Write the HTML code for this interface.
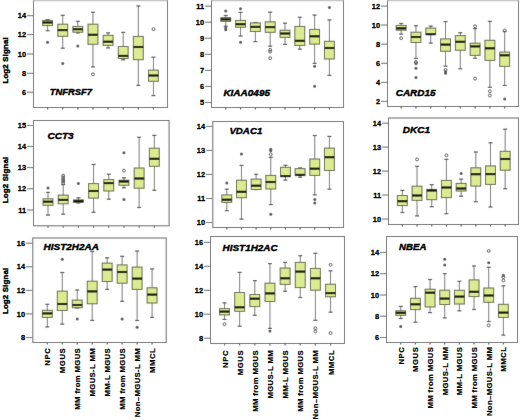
<!DOCTYPE html>
<html><head><meta charset="utf-8">
<style>
html,body{margin:0;padding:0;background:#fff;}
body{width:520px;height:420px;overflow:hidden;}
svg{display:block;}
#w{width:520px;height:420px;}
text{font-family:"Liberation Sans",sans-serif;fill:#000;}
.tk{font-size:7.4px;font-weight:bold;text-anchor:end;stroke:#000;stroke-width:0.3px;}
.gl{font-size:9.9px;font-weight:bold;font-style:italic;stroke:#000;stroke-width:0.42px;}
.xl{font-size:7.7px;font-weight:bold;stroke:#000;stroke-width:0.2px;}
.yt{font-size:7.8px;font-weight:bold;stroke:#000;stroke-width:0.4px;}
</style></head><body>
<div id="w"><svg width="520" height="420" viewBox="0 0 520 420">
<defs><filter id="bl" x="0" y="0" width="520" height="420" filterUnits="userSpaceOnUse"><feConvolveMatrix order="3" kernelMatrix="0.00524 0.06192 0.00524 0.06192 0.73137 0.06192 0.00524 0.06192 0.00524" divisor="1" edgeMode="duplicate" preserveAlpha="true"/></filter></defs>
<g filter="url(#bl)">
<rect x="0" y="0" width="520" height="420" fill="#fff"/>
<rect x="33.5" y="-2" width="134" height="109.5" fill="#fff" stroke="#636363" stroke-width="1"/>
<line x1="33.5" y1="0.6" x2="167.5" y2="0.6" stroke="#c4c4c4" stroke-width="1.2"/>
<line x1="27" y1="15.7" x2="33" y2="15.7" stroke="#666" stroke-width="1"/>
<line x1="27" y1="34.6" x2="33" y2="34.6" stroke="#666" stroke-width="1"/>
<line x1="27" y1="54" x2="33" y2="54" stroke="#666" stroke-width="1"/>
<line x1="27" y1="73.3" x2="33" y2="73.3" stroke="#666" stroke-width="1"/>
<line x1="27" y1="92.2" x2="33" y2="92.2" stroke="#666" stroke-width="1"/>
<line x1="47.6" y1="108" x2="47.6" y2="109.4" stroke="#444" stroke-width="1.1"/>
<line x1="62.72" y1="108" x2="62.72" y2="109.4" stroke="#444" stroke-width="1.1"/>
<line x1="77.84" y1="108" x2="77.84" y2="109.4" stroke="#444" stroke-width="1.1"/>
<line x1="92.96" y1="108" x2="92.96" y2="109.4" stroke="#444" stroke-width="1.1"/>
<line x1="108.08" y1="108" x2="108.08" y2="109.4" stroke="#444" stroke-width="1.1"/>
<line x1="123.2" y1="108" x2="123.2" y2="109.4" stroke="#444" stroke-width="1.1"/>
<line x1="138.32" y1="108" x2="138.32" y2="109.4" stroke="#444" stroke-width="1.1"/>
<line x1="153.44" y1="108" x2="153.44" y2="109.4" stroke="#444" stroke-width="1.1"/>
<line x1="47.6" y1="19.6" x2="47.6" y2="20.4" stroke="#767676" stroke-width="1"/>
<line x1="47.6" y1="25.6" x2="47.6" y2="30.7" stroke="#767676" stroke-width="1"/>
<line x1="45.6" y1="19.6" x2="49.6" y2="19.6" stroke="#505050" stroke-width="1.2"/>
<line x1="45.6" y1="30.7" x2="49.6" y2="30.7" stroke="#505050" stroke-width="1.2"/>
<rect x="42.65" y="20.4" width="9.9" height="5.2" fill="#dbeb8f" stroke="#62654a" stroke-width="1"/>
<line x1="42.65" y1="22.5" x2="52.55" y2="22.5" stroke="#000" stroke-width="2.1"/>
<circle cx="47.6" cy="42.2" r="1.5" fill="#555555"/>
<line x1="62.72" y1="15.3" x2="62.72" y2="24.2" stroke="#767676" stroke-width="1"/>
<line x1="62.72" y1="36.3" x2="62.72" y2="48.2" stroke="#767676" stroke-width="1"/>
<line x1="60.72" y1="15.3" x2="64.72" y2="15.3" stroke="#505050" stroke-width="1.2"/>
<line x1="60.72" y1="48.2" x2="64.72" y2="48.2" stroke="#505050" stroke-width="1.2"/>
<rect x="57.77" y="24.2" width="9.9" height="12.1" fill="#dbeb8f" stroke="#62654a" stroke-width="1"/>
<line x1="57.77" y1="30.1" x2="67.67" y2="30.1" stroke="#000" stroke-width="2.1"/>
<circle cx="62.72" cy="63.5" r="1.5" fill="#555555"/>
<line x1="77.84" y1="21.4" x2="77.84" y2="26.4" stroke="#767676" stroke-width="1"/>
<line x1="77.84" y1="32.2" x2="77.84" y2="32.9" stroke="#767676" stroke-width="1"/>
<line x1="75.84" y1="21.4" x2="79.84" y2="21.4" stroke="#505050" stroke-width="1.2"/>
<line x1="75.84" y1="32.9" x2="79.84" y2="32.9" stroke="#505050" stroke-width="1.2"/>
<rect x="72.89" y="26.4" width="9.9" height="5.8" fill="#dbeb8f" stroke="#62654a" stroke-width="1"/>
<line x1="72.89" y1="29.2" x2="82.79" y2="29.2" stroke="#000" stroke-width="2.1"/>
<circle cx="77.84" cy="46" r="1.5" fill="#555555"/>
<line x1="92.96" y1="12.3" x2="92.96" y2="24.2" stroke="#767676" stroke-width="1"/>
<line x1="92.96" y1="44.3" x2="92.96" y2="66.9" stroke="#767676" stroke-width="1"/>
<line x1="90.96" y1="12.3" x2="94.96" y2="12.3" stroke="#505050" stroke-width="1.2"/>
<line x1="90.96" y1="66.9" x2="94.96" y2="66.9" stroke="#505050" stroke-width="1.2"/>
<rect x="88.01" y="24.2" width="9.9" height="20.1" fill="#dbeb8f" stroke="#62654a" stroke-width="1"/>
<line x1="88.01" y1="34.8" x2="97.91" y2="34.8" stroke="#000" stroke-width="2.1"/>
<circle cx="92.96" cy="74.3" r="1.45" fill="none" stroke="#555555" stroke-width="1"/>
<line x1="108.08" y1="32.8" x2="108.08" y2="35.3" stroke="#767676" stroke-width="1"/>
<line x1="108.08" y1="45.4" x2="108.08" y2="47.9" stroke="#767676" stroke-width="1"/>
<line x1="106.08" y1="32.8" x2="110.08" y2="32.8" stroke="#505050" stroke-width="1.2"/>
<line x1="106.08" y1="47.9" x2="110.08" y2="47.9" stroke="#505050" stroke-width="1.2"/>
<rect x="103.13" y="35.3" width="9.9" height="10.1" fill="#dbeb8f" stroke="#62654a" stroke-width="1"/>
<line x1="103.13" y1="41.7" x2="113.03" y2="41.7" stroke="#000" stroke-width="2.1"/>
<line x1="123.2" y1="32.4" x2="123.2" y2="46.5" stroke="#767676" stroke-width="1"/>
<line x1="123.2" y1="58.5" x2="123.2" y2="59.8" stroke="#767676" stroke-width="1"/>
<line x1="121.2" y1="32.4" x2="125.2" y2="32.4" stroke="#505050" stroke-width="1.2"/>
<line x1="121.2" y1="59.8" x2="125.2" y2="59.8" stroke="#505050" stroke-width="1.2"/>
<rect x="118.25" y="46.5" width="9.9" height="12" fill="#dbeb8f" stroke="#62654a" stroke-width="1"/>
<line x1="118.25" y1="55.9" x2="128.15" y2="55.9" stroke="#000" stroke-width="2.1"/>
<line x1="138.32" y1="6" x2="138.32" y2="36.4" stroke="#767676" stroke-width="1"/>
<line x1="138.32" y1="59.7" x2="138.32" y2="85.4" stroke="#767676" stroke-width="1"/>
<line x1="136.32" y1="6" x2="140.32" y2="6" stroke="#505050" stroke-width="1.2"/>
<line x1="136.32" y1="85.4" x2="140.32" y2="85.4" stroke="#505050" stroke-width="1.2"/>
<rect x="133.37" y="36.4" width="9.9" height="23.3" fill="#dbeb8f" stroke="#62654a" stroke-width="1"/>
<line x1="133.37" y1="47" x2="143.27" y2="47" stroke="#000" stroke-width="2.1"/>
<line x1="153.44" y1="57.2" x2="153.44" y2="70.1" stroke="#767676" stroke-width="1"/>
<line x1="153.44" y1="81.3" x2="153.44" y2="95.6" stroke="#767676" stroke-width="1"/>
<line x1="151.44" y1="57.2" x2="155.44" y2="57.2" stroke="#505050" stroke-width="1.2"/>
<line x1="151.44" y1="95.6" x2="155.44" y2="95.6" stroke="#505050" stroke-width="1.2"/>
<rect x="148.49" y="70.1" width="9.9" height="11.2" fill="#dbeb8f" stroke="#62654a" stroke-width="1"/>
<line x1="148.49" y1="75.5" x2="158.39" y2="75.5" stroke="#000" stroke-width="2.1"/>
<circle cx="153.44" cy="29.2" r="1.45" fill="none" stroke="#555555" stroke-width="1"/>
<rect x="211.5" y="-2" width="132" height="109.5" fill="#fff" stroke="#636363" stroke-width="1"/>
<line x1="211.5" y1="0.6" x2="343.5" y2="0.6" stroke="#c4c4c4" stroke-width="1.2"/>
<line x1="205" y1="6.2" x2="211" y2="6.2" stroke="#666" stroke-width="1"/>
<line x1="205" y1="22.2" x2="211" y2="22.2" stroke="#666" stroke-width="1"/>
<line x1="205" y1="38.2" x2="211" y2="38.2" stroke="#666" stroke-width="1"/>
<line x1="205" y1="54.3" x2="211" y2="54.3" stroke="#666" stroke-width="1"/>
<line x1="205" y1="70.3" x2="211" y2="70.3" stroke="#666" stroke-width="1"/>
<line x1="205" y1="86.4" x2="211" y2="86.4" stroke="#666" stroke-width="1"/>
<line x1="205" y1="102.5" x2="211" y2="102.5" stroke="#666" stroke-width="1"/>
<line x1="225.75" y1="108" x2="225.75" y2="109.4" stroke="#444" stroke-width="1.1"/>
<line x1="240.56" y1="108" x2="240.56" y2="109.4" stroke="#444" stroke-width="1.1"/>
<line x1="255.37" y1="108" x2="255.37" y2="109.4" stroke="#444" stroke-width="1.1"/>
<line x1="270.18" y1="108" x2="270.18" y2="109.4" stroke="#444" stroke-width="1.1"/>
<line x1="284.99" y1="108" x2="284.99" y2="109.4" stroke="#444" stroke-width="1.1"/>
<line x1="299.8" y1="108" x2="299.8" y2="109.4" stroke="#444" stroke-width="1.1"/>
<line x1="314.61" y1="108" x2="314.61" y2="109.4" stroke="#444" stroke-width="1.1"/>
<line x1="329.42" y1="108" x2="329.42" y2="109.4" stroke="#444" stroke-width="1.1"/>
<line x1="225.75" y1="15.5" x2="225.75" y2="17.6" stroke="#767676" stroke-width="1"/>
<line x1="225.75" y1="21.4" x2="225.75" y2="26.2" stroke="#767676" stroke-width="1"/>
<line x1="223.75" y1="15.5" x2="227.75" y2="15.5" stroke="#505050" stroke-width="1.2"/>
<line x1="223.75" y1="26.2" x2="227.75" y2="26.2" stroke="#505050" stroke-width="1.2"/>
<rect x="220.8" y="17.6" width="9.9" height="3.8" fill="#dbeb8f" stroke="#62654a" stroke-width="1"/>
<line x1="220.8" y1="19.4" x2="230.7" y2="19.4" stroke="#000" stroke-width="2.1"/>
<circle cx="225.75" cy="10.9" r="1.5" fill="#555555"/>
<circle cx="225.75" cy="28.1" r="1.5" fill="#555555"/>
<circle cx="225.75" cy="29.8" r="1.5" fill="#555555"/>
<line x1="240.56" y1="12.4" x2="240.56" y2="20.4" stroke="#767676" stroke-width="1"/>
<line x1="240.56" y1="27.3" x2="240.56" y2="36" stroke="#767676" stroke-width="1"/>
<line x1="238.56" y1="12.4" x2="242.56" y2="12.4" stroke="#505050" stroke-width="1.2"/>
<line x1="238.56" y1="36" x2="242.56" y2="36" stroke="#505050" stroke-width="1.2"/>
<rect x="235.61" y="20.4" width="9.9" height="6.9" fill="#dbeb8f" stroke="#62654a" stroke-width="1"/>
<line x1="235.61" y1="24.2" x2="245.51" y2="24.2" stroke="#000" stroke-width="2.1"/>
<circle cx="240.56" cy="8.7" r="1.5" fill="#555555"/>
<circle cx="240.56" cy="42.2" r="1.5" fill="#555555"/>
<line x1="255.37" y1="22.5" x2="255.37" y2="22.9" stroke="#767676" stroke-width="1"/>
<line x1="255.37" y1="31.5" x2="255.37" y2="41.6" stroke="#767676" stroke-width="1"/>
<line x1="253.37" y1="22.5" x2="257.37" y2="22.5" stroke="#505050" stroke-width="1.2"/>
<line x1="253.37" y1="41.6" x2="257.37" y2="41.6" stroke="#505050" stroke-width="1.2"/>
<rect x="250.42" y="22.9" width="9.9" height="8.6" fill="#dbeb8f" stroke="#62654a" stroke-width="1"/>
<line x1="250.42" y1="26.9" x2="260.32" y2="26.9" stroke="#000" stroke-width="2.1"/>
<line x1="270.18" y1="12.2" x2="270.18" y2="21.8" stroke="#767676" stroke-width="1"/>
<line x1="270.18" y1="32.3" x2="270.18" y2="46.2" stroke="#767676" stroke-width="1"/>
<line x1="268.18" y1="12.2" x2="272.18" y2="12.2" stroke="#505050" stroke-width="1.2"/>
<line x1="268.18" y1="46.2" x2="272.18" y2="46.2" stroke="#505050" stroke-width="1.2"/>
<rect x="265.23" y="21.8" width="9.9" height="10.5" fill="#dbeb8f" stroke="#62654a" stroke-width="1"/>
<line x1="265.23" y1="27.1" x2="275.13" y2="27.1" stroke="#000" stroke-width="2.1"/>
<circle cx="270.18" cy="49.8" r="1.45" fill="none" stroke="#555555" stroke-width="1"/>
<circle cx="270.18" cy="51.6" r="1.45" fill="none" stroke="#555555" stroke-width="1"/>
<circle cx="270.18" cy="58.2" r="1.45" fill="none" stroke="#555555" stroke-width="1"/>
<line x1="284.99" y1="23.2" x2="284.99" y2="30.2" stroke="#767676" stroke-width="1"/>
<line x1="284.99" y1="37.4" x2="284.99" y2="44.4" stroke="#767676" stroke-width="1"/>
<line x1="282.99" y1="23.2" x2="286.99" y2="23.2" stroke="#505050" stroke-width="1.2"/>
<line x1="282.99" y1="44.4" x2="286.99" y2="44.4" stroke="#505050" stroke-width="1.2"/>
<rect x="280.04" y="30.2" width="9.9" height="7.2" fill="#dbeb8f" stroke="#62654a" stroke-width="1"/>
<line x1="280.04" y1="33.5" x2="289.94" y2="33.5" stroke="#000" stroke-width="2.1"/>
<line x1="299.8" y1="17.3" x2="299.8" y2="26.4" stroke="#767676" stroke-width="1"/>
<line x1="299.8" y1="45.5" x2="299.8" y2="49.2" stroke="#767676" stroke-width="1"/>
<line x1="297.8" y1="17.3" x2="301.8" y2="17.3" stroke="#505050" stroke-width="1.2"/>
<line x1="297.8" y1="49.2" x2="301.8" y2="49.2" stroke="#505050" stroke-width="1.2"/>
<rect x="294.85" y="26.4" width="9.9" height="19.1" fill="#dbeb8f" stroke="#62654a" stroke-width="1"/>
<line x1="294.85" y1="40.8" x2="304.75" y2="40.8" stroke="#000" stroke-width="2.1"/>
<line x1="314.61" y1="15.1" x2="314.61" y2="29.4" stroke="#767676" stroke-width="1"/>
<line x1="314.61" y1="44.1" x2="314.61" y2="63.4" stroke="#767676" stroke-width="1"/>
<line x1="312.61" y1="15.1" x2="316.61" y2="15.1" stroke="#505050" stroke-width="1.2"/>
<line x1="312.61" y1="63.4" x2="316.61" y2="63.4" stroke="#505050" stroke-width="1.2"/>
<rect x="309.66" y="29.4" width="9.9" height="14.7" fill="#dbeb8f" stroke="#62654a" stroke-width="1"/>
<line x1="309.66" y1="36.3" x2="319.56" y2="36.3" stroke="#000" stroke-width="2.1"/>
<circle cx="314.61" cy="66.3" r="1.5" fill="#555555"/>
<circle cx="314.61" cy="86.3" r="1.5" fill="#555555"/>
<line x1="329.42" y1="19.9" x2="329.42" y2="41.3" stroke="#767676" stroke-width="1"/>
<line x1="329.42" y1="59" x2="329.42" y2="75.4" stroke="#767676" stroke-width="1"/>
<line x1="327.42" y1="19.9" x2="331.42" y2="19.9" stroke="#505050" stroke-width="1.2"/>
<line x1="327.42" y1="75.4" x2="331.42" y2="75.4" stroke="#505050" stroke-width="1.2"/>
<rect x="324.47" y="41.3" width="9.9" height="17.7" fill="#dbeb8f" stroke="#62654a" stroke-width="1"/>
<line x1="324.47" y1="48" x2="334.37" y2="48" stroke="#000" stroke-width="2.1"/>
<circle cx="329.42" cy="7.5" r="1.5" fill="#555555"/>
<rect x="387.5" y="-2" width="131" height="108.5" fill="#fff" stroke="#636363" stroke-width="1"/>
<line x1="387.5" y1="0.6" x2="518.5" y2="0.6" stroke="#c4c4c4" stroke-width="1.2"/>
<line x1="381" y1="6.1" x2="387" y2="6.1" stroke="#666" stroke-width="1"/>
<line x1="381" y1="25" x2="387" y2="25" stroke="#666" stroke-width="1"/>
<line x1="381" y1="44.2" x2="387" y2="44.2" stroke="#666" stroke-width="1"/>
<line x1="381" y1="63.3" x2="387" y2="63.3" stroke="#666" stroke-width="1"/>
<line x1="381" y1="82.4" x2="387" y2="82.4" stroke="#666" stroke-width="1"/>
<line x1="381" y1="101.4" x2="387" y2="101.4" stroke="#666" stroke-width="1"/>
<line x1="401.15" y1="107" x2="401.15" y2="108.4" stroke="#444" stroke-width="1.1"/>
<line x1="415.94" y1="107" x2="415.94" y2="108.4" stroke="#444" stroke-width="1.1"/>
<line x1="430.73" y1="107" x2="430.73" y2="108.4" stroke="#444" stroke-width="1.1"/>
<line x1="445.52" y1="107" x2="445.52" y2="108.4" stroke="#444" stroke-width="1.1"/>
<line x1="460.31" y1="107" x2="460.31" y2="108.4" stroke="#444" stroke-width="1.1"/>
<line x1="475.1" y1="107" x2="475.1" y2="108.4" stroke="#444" stroke-width="1.1"/>
<line x1="489.89" y1="107" x2="489.89" y2="108.4" stroke="#444" stroke-width="1.1"/>
<line x1="504.68" y1="107" x2="504.68" y2="108.4" stroke="#444" stroke-width="1.1"/>
<line x1="401.15" y1="23.5" x2="401.15" y2="25.4" stroke="#767676" stroke-width="1"/>
<line x1="401.15" y1="30.2" x2="401.15" y2="34.1" stroke="#767676" stroke-width="1"/>
<line x1="399.15" y1="23.5" x2="403.15" y2="23.5" stroke="#505050" stroke-width="1.2"/>
<line x1="399.15" y1="34.1" x2="403.15" y2="34.1" stroke="#505050" stroke-width="1.2"/>
<rect x="396.2" y="25.4" width="9.9" height="4.8" fill="#dbeb8f" stroke="#62654a" stroke-width="1"/>
<line x1="396.2" y1="28.3" x2="406.1" y2="28.3" stroke="#000" stroke-width="2.1"/>
<circle cx="401.15" cy="38.2" r="1.45" fill="none" stroke="#555555" stroke-width="1"/>
<line x1="415.94" y1="25.8" x2="415.94" y2="32.2" stroke="#767676" stroke-width="1"/>
<line x1="415.94" y1="42.5" x2="415.94" y2="58.5" stroke="#767676" stroke-width="1"/>
<line x1="413.94" y1="25.8" x2="417.94" y2="25.8" stroke="#505050" stroke-width="1.2"/>
<line x1="413.94" y1="58.5" x2="417.94" y2="58.5" stroke="#505050" stroke-width="1.2"/>
<rect x="410.99" y="32.2" width="9.9" height="10.3" fill="#dbeb8f" stroke="#62654a" stroke-width="1"/>
<line x1="410.99" y1="37" x2="420.89" y2="37" stroke="#000" stroke-width="2.1"/>
<circle cx="415.94" cy="62.1" r="1.45" fill="none" stroke="#555555" stroke-width="1"/>
<circle cx="415.94" cy="63.3" r="1.45" fill="none" stroke="#555555" stroke-width="1"/>
<circle cx="415.94" cy="68.2" r="1.5" fill="#555555"/>
<circle cx="415.94" cy="77.5" r="1.5" fill="#555555"/>
<line x1="430.73" y1="26.1" x2="430.73" y2="28.1" stroke="#767676" stroke-width="1"/>
<line x1="430.73" y1="34.4" x2="430.73" y2="43.1" stroke="#767676" stroke-width="1"/>
<line x1="428.73" y1="26.1" x2="432.73" y2="26.1" stroke="#505050" stroke-width="1.2"/>
<line x1="428.73" y1="43.1" x2="432.73" y2="43.1" stroke="#505050" stroke-width="1.2"/>
<rect x="425.78" y="28.1" width="9.9" height="6.3" fill="#dbeb8f" stroke="#62654a" stroke-width="1"/>
<line x1="425.78" y1="34.2" x2="435.68" y2="34.2" stroke="#000" stroke-width="2.1"/>
<line x1="445.52" y1="21.6" x2="445.52" y2="38.9" stroke="#767676" stroke-width="1"/>
<line x1="445.52" y1="51.3" x2="445.52" y2="66.2" stroke="#767676" stroke-width="1"/>
<line x1="443.52" y1="21.6" x2="447.52" y2="21.6" stroke="#505050" stroke-width="1.2"/>
<line x1="443.52" y1="66.2" x2="447.52" y2="66.2" stroke="#505050" stroke-width="1.2"/>
<rect x="440.57" y="38.9" width="9.9" height="12.4" fill="#dbeb8f" stroke="#62654a" stroke-width="1"/>
<line x1="440.57" y1="44.6" x2="450.47" y2="44.6" stroke="#000" stroke-width="2.1"/>
<circle cx="445.52" cy="70" r="1.45" fill="none" stroke="#555555" stroke-width="1"/>
<circle cx="445.52" cy="71.8" r="1.5" fill="#555555"/>
<circle cx="445.52" cy="73.2" r="1.5" fill="#555555"/>
<line x1="460.31" y1="32.7" x2="460.31" y2="35.6" stroke="#767676" stroke-width="1"/>
<line x1="460.31" y1="50.3" x2="460.31" y2="68.8" stroke="#767676" stroke-width="1"/>
<line x1="458.31" y1="32.7" x2="462.31" y2="32.7" stroke="#505050" stroke-width="1.2"/>
<line x1="458.31" y1="68.8" x2="462.31" y2="68.8" stroke="#505050" stroke-width="1.2"/>
<rect x="455.36" y="35.6" width="9.9" height="14.7" fill="#dbeb8f" stroke="#62654a" stroke-width="1"/>
<line x1="455.36" y1="41.8" x2="465.26" y2="41.8" stroke="#000" stroke-width="2.1"/>
<line x1="475.1" y1="28.6" x2="475.1" y2="43.2" stroke="#767676" stroke-width="1"/>
<line x1="475.1" y1="55.4" x2="475.1" y2="58.3" stroke="#767676" stroke-width="1"/>
<line x1="473.1" y1="28.6" x2="477.1" y2="28.6" stroke="#505050" stroke-width="1.2"/>
<line x1="473.1" y1="58.3" x2="477.1" y2="58.3" stroke="#505050" stroke-width="1.2"/>
<rect x="470.15" y="43.2" width="9.9" height="12.2" fill="#dbeb8f" stroke="#62654a" stroke-width="1"/>
<line x1="470.15" y1="46.4" x2="480.05" y2="46.4" stroke="#000" stroke-width="2.1"/>
<circle cx="475.1" cy="26.3" r="1.45" fill="none" stroke="#555555" stroke-width="1"/>
<circle cx="475.1" cy="78.6" r="1.45" fill="none" stroke="#555555" stroke-width="1"/>
<line x1="489.89" y1="21.4" x2="489.89" y2="40.3" stroke="#767676" stroke-width="1"/>
<line x1="489.89" y1="60.4" x2="489.89" y2="87.3" stroke="#767676" stroke-width="1"/>
<line x1="487.89" y1="21.4" x2="491.89" y2="21.4" stroke="#505050" stroke-width="1.2"/>
<line x1="487.89" y1="87.3" x2="491.89" y2="87.3" stroke="#505050" stroke-width="1.2"/>
<rect x="484.94" y="40.3" width="9.9" height="20.1" fill="#dbeb8f" stroke="#62654a" stroke-width="1"/>
<line x1="484.94" y1="48.3" x2="494.84" y2="48.3" stroke="#000" stroke-width="2.1"/>
<circle cx="489.89" cy="91.3" r="1.45" fill="none" stroke="#555555" stroke-width="1"/>
<circle cx="489.89" cy="95.5" r="1.45" fill="none" stroke="#555555" stroke-width="1"/>
<line x1="504.68" y1="31.5" x2="504.68" y2="52.1" stroke="#767676" stroke-width="1"/>
<line x1="504.68" y1="66.4" x2="504.68" y2="85.5" stroke="#767676" stroke-width="1"/>
<line x1="502.68" y1="31.5" x2="506.68" y2="31.5" stroke="#505050" stroke-width="1.2"/>
<line x1="502.68" y1="85.5" x2="506.68" y2="85.5" stroke="#505050" stroke-width="1.2"/>
<rect x="499.73" y="52.1" width="9.9" height="14.3" fill="#dbeb8f" stroke="#62654a" stroke-width="1"/>
<line x1="499.73" y1="55.3" x2="509.63" y2="55.3" stroke="#000" stroke-width="2.1"/>
<circle cx="504.68" cy="30.5" r="1.45" fill="none" stroke="#555555" stroke-width="1"/>
<circle cx="504.68" cy="98.9" r="1.5" fill="#555555"/>
<rect x="33.5" y="120.5" width="135.6" height="105.3" fill="#fff" stroke="#636363" stroke-width="1"/>
<line x1="27" y1="125.5" x2="33" y2="125.5" stroke="#666" stroke-width="1"/>
<line x1="27" y1="146.4" x2="33" y2="146.4" stroke="#666" stroke-width="1"/>
<line x1="27" y1="167.6" x2="33" y2="167.6" stroke="#666" stroke-width="1"/>
<line x1="27" y1="188.8" x2="33" y2="188.8" stroke="#666" stroke-width="1"/>
<line x1="27" y1="210" x2="33" y2="210" stroke="#666" stroke-width="1"/>
<line x1="48" y1="226.3" x2="48" y2="227.7" stroke="#444" stroke-width="1.1"/>
<line x1="63.19" y1="226.3" x2="63.19" y2="227.7" stroke="#444" stroke-width="1.1"/>
<line x1="78.38" y1="226.3" x2="78.38" y2="227.7" stroke="#444" stroke-width="1.1"/>
<line x1="93.57" y1="226.3" x2="93.57" y2="227.7" stroke="#444" stroke-width="1.1"/>
<line x1="108.76" y1="226.3" x2="108.76" y2="227.7" stroke="#444" stroke-width="1.1"/>
<line x1="123.95" y1="226.3" x2="123.95" y2="227.7" stroke="#444" stroke-width="1.1"/>
<line x1="139.14" y1="226.3" x2="139.14" y2="227.7" stroke="#444" stroke-width="1.1"/>
<line x1="154.33" y1="226.3" x2="154.33" y2="227.7" stroke="#444" stroke-width="1.1"/>
<line x1="48" y1="192.4" x2="48" y2="198.8" stroke="#767676" stroke-width="1"/>
<line x1="48" y1="205.3" x2="48" y2="215.1" stroke="#767676" stroke-width="1"/>
<line x1="46" y1="192.4" x2="50" y2="192.4" stroke="#505050" stroke-width="1.2"/>
<line x1="46" y1="215.1" x2="50" y2="215.1" stroke="#505050" stroke-width="1.2"/>
<rect x="43.05" y="198.8" width="9.9" height="6.5" fill="#dbeb8f" stroke="#62654a" stroke-width="1"/>
<line x1="43.05" y1="201.7" x2="52.95" y2="201.7" stroke="#000" stroke-width="2.1"/>
<circle cx="48" cy="188" r="1.5" fill="#555555"/>
<line x1="63.19" y1="184.6" x2="63.19" y2="195.1" stroke="#767676" stroke-width="1"/>
<line x1="63.19" y1="203.8" x2="63.19" y2="214.2" stroke="#767676" stroke-width="1"/>
<line x1="61.19" y1="184.6" x2="65.19" y2="184.6" stroke="#505050" stroke-width="1.2"/>
<line x1="61.19" y1="214.2" x2="65.19" y2="214.2" stroke="#505050" stroke-width="1.2"/>
<rect x="58.24" y="195.1" width="9.9" height="8.7" fill="#dbeb8f" stroke="#62654a" stroke-width="1"/>
<line x1="58.24" y1="199.9" x2="68.14" y2="199.9" stroke="#000" stroke-width="2.1"/>
<circle cx="63.19" cy="175.6" r="1.45" fill="none" stroke="#555555" stroke-width="1"/>
<circle cx="63.19" cy="177.4" r="1.45" fill="none" stroke="#555555" stroke-width="1"/>
<circle cx="63.19" cy="179.2" r="1.45" fill="none" stroke="#555555" stroke-width="1"/>
<circle cx="63.19" cy="181" r="1.45" fill="none" stroke="#555555" stroke-width="1"/>
<circle cx="63.19" cy="182.8" r="1.45" fill="none" stroke="#555555" stroke-width="1"/>
<line x1="78.38" y1="197.8" x2="78.38" y2="199.9" stroke="#767676" stroke-width="1"/>
<line x1="78.38" y1="202.3" x2="78.38" y2="203" stroke="#767676" stroke-width="1"/>
<line x1="76.38" y1="197.8" x2="80.38" y2="197.8" stroke="#505050" stroke-width="1.2"/>
<line x1="76.38" y1="203" x2="80.38" y2="203" stroke="#505050" stroke-width="1.2"/>
<rect x="73.43" y="199.9" width="9.9" height="2.4" fill="#dbeb8f" stroke="#62654a" stroke-width="1"/>
<line x1="73.43" y1="201.2" x2="83.33" y2="201.2" stroke="#000" stroke-width="2.1"/>
<circle cx="78.38" cy="183.5" r="1.5" fill="#555555"/>
<line x1="93.57" y1="164.5" x2="93.57" y2="183.6" stroke="#767676" stroke-width="1"/>
<line x1="93.57" y1="198.1" x2="93.57" y2="212.3" stroke="#767676" stroke-width="1"/>
<line x1="91.57" y1="164.5" x2="95.57" y2="164.5" stroke="#505050" stroke-width="1.2"/>
<line x1="91.57" y1="212.3" x2="95.57" y2="212.3" stroke="#505050" stroke-width="1.2"/>
<rect x="88.62" y="183.6" width="9.9" height="14.5" fill="#dbeb8f" stroke="#62654a" stroke-width="1"/>
<line x1="88.62" y1="191" x2="98.52" y2="191" stroke="#000" stroke-width="2.1"/>
<line x1="108.76" y1="174.2" x2="108.76" y2="179.6" stroke="#767676" stroke-width="1"/>
<line x1="108.76" y1="191" x2="108.76" y2="199.2" stroke="#767676" stroke-width="1"/>
<line x1="106.76" y1="174.2" x2="110.76" y2="174.2" stroke="#505050" stroke-width="1.2"/>
<line x1="106.76" y1="199.2" x2="110.76" y2="199.2" stroke="#505050" stroke-width="1.2"/>
<rect x="103.81" y="179.6" width="9.9" height="11.4" fill="#dbeb8f" stroke="#62654a" stroke-width="1"/>
<line x1="103.81" y1="183.1" x2="113.71" y2="183.1" stroke="#000" stroke-width="2.1"/>
<line x1="123.95" y1="177.8" x2="123.95" y2="180.2" stroke="#767676" stroke-width="1"/>
<line x1="123.95" y1="185.3" x2="123.95" y2="187.8" stroke="#767676" stroke-width="1"/>
<line x1="121.95" y1="177.8" x2="125.95" y2="177.8" stroke="#505050" stroke-width="1.2"/>
<line x1="121.95" y1="187.8" x2="125.95" y2="187.8" stroke="#505050" stroke-width="1.2"/>
<rect x="119" y="180.2" width="9.9" height="5.1" fill="#dbeb8f" stroke="#62654a" stroke-width="1"/>
<line x1="119" y1="181.5" x2="128.9" y2="181.5" stroke="#000" stroke-width="2.1"/>
<circle cx="123.95" cy="152.7" r="1.5" fill="#555555"/>
<circle cx="123.95" cy="170.6" r="1.45" fill="none" stroke="#555555" stroke-width="1"/>
<circle cx="123.95" cy="199.6" r="1.5" fill="#555555"/>
<line x1="139.14" y1="137.3" x2="139.14" y2="168" stroke="#767676" stroke-width="1"/>
<line x1="139.14" y1="188.2" x2="139.14" y2="207.5" stroke="#767676" stroke-width="1"/>
<line x1="137.14" y1="137.3" x2="141.14" y2="137.3" stroke="#505050" stroke-width="1.2"/>
<line x1="137.14" y1="207.5" x2="141.14" y2="207.5" stroke="#505050" stroke-width="1.2"/>
<rect x="134.19" y="168" width="9.9" height="20.2" fill="#dbeb8f" stroke="#62654a" stroke-width="1"/>
<line x1="134.19" y1="178.5" x2="144.09" y2="178.5" stroke="#000" stroke-width="2.1"/>
<line x1="154.33" y1="135.4" x2="154.33" y2="148.2" stroke="#767676" stroke-width="1"/>
<line x1="154.33" y1="166.3" x2="154.33" y2="190.3" stroke="#767676" stroke-width="1"/>
<line x1="152.33" y1="135.4" x2="156.33" y2="135.4" stroke="#505050" stroke-width="1.2"/>
<line x1="152.33" y1="190.3" x2="156.33" y2="190.3" stroke="#505050" stroke-width="1.2"/>
<rect x="149.38" y="148.2" width="9.9" height="18.1" fill="#dbeb8f" stroke="#62654a" stroke-width="1"/>
<line x1="149.38" y1="158.8" x2="159.28" y2="158.8" stroke="#000" stroke-width="2.1"/>
<rect x="212.8" y="121.5" width="130.7" height="106" fill="#fff" stroke="#636363" stroke-width="1"/>
<line x1="206" y1="126.4" x2="212" y2="126.4" stroke="#666" stroke-width="1"/>
<line x1="206" y1="150.4" x2="212" y2="150.4" stroke="#666" stroke-width="1"/>
<line x1="206" y1="174.4" x2="212" y2="174.4" stroke="#666" stroke-width="1"/>
<line x1="206" y1="198.5" x2="212" y2="198.5" stroke="#666" stroke-width="1"/>
<line x1="206" y1="222.5" x2="212" y2="222.5" stroke="#666" stroke-width="1"/>
<line x1="226.8" y1="228" x2="226.8" y2="229.4" stroke="#444" stroke-width="1.1"/>
<line x1="241.46" y1="228" x2="241.46" y2="229.4" stroke="#444" stroke-width="1.1"/>
<line x1="256.12" y1="228" x2="256.12" y2="229.4" stroke="#444" stroke-width="1.1"/>
<line x1="270.78" y1="228" x2="270.78" y2="229.4" stroke="#444" stroke-width="1.1"/>
<line x1="285.44" y1="228" x2="285.44" y2="229.4" stroke="#444" stroke-width="1.1"/>
<line x1="300.1" y1="228" x2="300.1" y2="229.4" stroke="#444" stroke-width="1.1"/>
<line x1="314.76" y1="228" x2="314.76" y2="229.4" stroke="#444" stroke-width="1.1"/>
<line x1="329.42" y1="228" x2="329.42" y2="229.4" stroke="#444" stroke-width="1.1"/>
<line x1="226.8" y1="189.2" x2="226.8" y2="194.9" stroke="#767676" stroke-width="1"/>
<line x1="226.8" y1="202.4" x2="226.8" y2="210.7" stroke="#767676" stroke-width="1"/>
<line x1="224.8" y1="189.2" x2="228.8" y2="189.2" stroke="#505050" stroke-width="1.2"/>
<line x1="224.8" y1="210.7" x2="228.8" y2="210.7" stroke="#505050" stroke-width="1.2"/>
<rect x="221.85" y="194.9" width="9.9" height="7.5" fill="#dbeb8f" stroke="#62654a" stroke-width="1"/>
<line x1="221.85" y1="199.7" x2="231.75" y2="199.7" stroke="#000" stroke-width="2.1"/>
<circle cx="226.8" cy="183" r="1.5" fill="#555555"/>
<line x1="241.46" y1="165.4" x2="241.46" y2="180.2" stroke="#767676" stroke-width="1"/>
<line x1="241.46" y1="197.7" x2="241.46" y2="219.1" stroke="#767676" stroke-width="1"/>
<line x1="239.46" y1="165.4" x2="243.46" y2="165.4" stroke="#505050" stroke-width="1.2"/>
<line x1="239.46" y1="219.1" x2="243.46" y2="219.1" stroke="#505050" stroke-width="1.2"/>
<rect x="236.51" y="180.2" width="9.9" height="17.5" fill="#dbeb8f" stroke="#62654a" stroke-width="1"/>
<line x1="236.51" y1="191.8" x2="246.41" y2="191.8" stroke="#000" stroke-width="2.1"/>
<circle cx="241.46" cy="154.1" r="1.5" fill="#555555"/>
<line x1="256.12" y1="174.3" x2="256.12" y2="179.1" stroke="#767676" stroke-width="1"/>
<line x1="256.12" y1="189.5" x2="256.12" y2="189.6" stroke="#767676" stroke-width="1"/>
<line x1="254.12" y1="174.3" x2="258.12" y2="174.3" stroke="#505050" stroke-width="1.2"/>
<line x1="254.12" y1="189.6" x2="258.12" y2="189.6" stroke="#505050" stroke-width="1.2"/>
<rect x="251.17" y="179.1" width="9.9" height="10.4" fill="#dbeb8f" stroke="#62654a" stroke-width="1"/>
<line x1="251.17" y1="185.7" x2="261.07" y2="185.7" stroke="#000" stroke-width="2.1"/>
<line x1="270.78" y1="157.4" x2="270.78" y2="175.4" stroke="#767676" stroke-width="1"/>
<line x1="270.78" y1="189" x2="270.78" y2="204.6" stroke="#767676" stroke-width="1"/>
<line x1="268.78" y1="157.4" x2="272.78" y2="157.4" stroke="#505050" stroke-width="1.2"/>
<line x1="268.78" y1="204.6" x2="272.78" y2="204.6" stroke="#505050" stroke-width="1.2"/>
<rect x="265.83" y="175.4" width="9.9" height="13.6" fill="#dbeb8f" stroke="#62654a" stroke-width="1"/>
<line x1="265.83" y1="182" x2="275.73" y2="182" stroke="#000" stroke-width="2.1"/>
<circle cx="270.78" cy="149.2" r="1.5" fill="#555555"/>
<circle cx="270.78" cy="150.8" r="1.5" fill="#555555"/>
<circle cx="270.78" cy="154.4" r="1.45" fill="none" stroke="#555555" stroke-width="1"/>
<circle cx="270.78" cy="214.3" r="1.5" fill="#555555"/>
<line x1="285.44" y1="165.3" x2="285.44" y2="167.3" stroke="#767676" stroke-width="1"/>
<line x1="285.44" y1="176.6" x2="285.44" y2="180.1" stroke="#767676" stroke-width="1"/>
<line x1="283.44" y1="165.3" x2="287.44" y2="165.3" stroke="#505050" stroke-width="1.2"/>
<line x1="283.44" y1="180.1" x2="287.44" y2="180.1" stroke="#505050" stroke-width="1.2"/>
<rect x="280.49" y="167.3" width="9.9" height="9.3" fill="#dbeb8f" stroke="#62654a" stroke-width="1"/>
<line x1="280.49" y1="176.1" x2="290.39" y2="176.1" stroke="#000" stroke-width="2.1"/>
<line x1="300.1" y1="167.9" x2="300.1" y2="168.6" stroke="#767676" stroke-width="1"/>
<line x1="300.1" y1="175.6" x2="300.1" y2="177.2" stroke="#767676" stroke-width="1"/>
<line x1="298.1" y1="167.9" x2="302.1" y2="167.9" stroke="#505050" stroke-width="1.2"/>
<line x1="298.1" y1="177.2" x2="302.1" y2="177.2" stroke="#505050" stroke-width="1.2"/>
<rect x="295.15" y="168.6" width="9.9" height="7" fill="#dbeb8f" stroke="#62654a" stroke-width="1"/>
<line x1="295.15" y1="174.9" x2="305.05" y2="174.9" stroke="#000" stroke-width="2.1"/>
<line x1="314.76" y1="135.5" x2="314.76" y2="159" stroke="#767676" stroke-width="1"/>
<line x1="314.76" y1="175.4" x2="314.76" y2="194.9" stroke="#767676" stroke-width="1"/>
<line x1="312.76" y1="135.5" x2="316.76" y2="135.5" stroke="#505050" stroke-width="1.2"/>
<line x1="312.76" y1="194.9" x2="316.76" y2="194.9" stroke="#505050" stroke-width="1.2"/>
<rect x="309.81" y="159" width="9.9" height="16.4" fill="#dbeb8f" stroke="#62654a" stroke-width="1"/>
<line x1="309.81" y1="168.7" x2="319.71" y2="168.7" stroke="#000" stroke-width="2.1"/>
<circle cx="314.76" cy="199.6" r="1.5" fill="#555555"/>
<circle cx="314.76" cy="203.1" r="1.5" fill="#555555"/>
<line x1="329.42" y1="136.4" x2="329.42" y2="148.1" stroke="#767676" stroke-width="1"/>
<line x1="329.42" y1="170.5" x2="329.42" y2="189.2" stroke="#767676" stroke-width="1"/>
<line x1="327.42" y1="136.4" x2="331.42" y2="136.4" stroke="#505050" stroke-width="1.2"/>
<line x1="327.42" y1="189.2" x2="331.42" y2="189.2" stroke="#505050" stroke-width="1.2"/>
<rect x="324.47" y="148.1" width="9.9" height="22.4" fill="#dbeb8f" stroke="#62654a" stroke-width="1"/>
<line x1="324.47" y1="157.2" x2="334.37" y2="157.2" stroke="#000" stroke-width="2.1"/>
<rect x="388.5" y="118" width="130" height="106.5" fill="#fff" stroke="#636363" stroke-width="1"/>
<line x1="382" y1="123.2" x2="388" y2="123.2" stroke="#666" stroke-width="1"/>
<line x1="382" y1="147.1" x2="388" y2="147.1" stroke="#666" stroke-width="1"/>
<line x1="382" y1="171.1" x2="388" y2="171.1" stroke="#666" stroke-width="1"/>
<line x1="382" y1="195" x2="388" y2="195" stroke="#666" stroke-width="1"/>
<line x1="382" y1="219" x2="388" y2="219" stroke="#666" stroke-width="1"/>
<line x1="402.35" y1="225" x2="402.35" y2="226.4" stroke="#444" stroke-width="1.1"/>
<line x1="417.04" y1="225" x2="417.04" y2="226.4" stroke="#444" stroke-width="1.1"/>
<line x1="431.73" y1="225" x2="431.73" y2="226.4" stroke="#444" stroke-width="1.1"/>
<line x1="446.42" y1="225" x2="446.42" y2="226.4" stroke="#444" stroke-width="1.1"/>
<line x1="461.11" y1="225" x2="461.11" y2="226.4" stroke="#444" stroke-width="1.1"/>
<line x1="475.8" y1="225" x2="475.8" y2="226.4" stroke="#444" stroke-width="1.1"/>
<line x1="490.49" y1="225" x2="490.49" y2="226.4" stroke="#444" stroke-width="1.1"/>
<line x1="505.18" y1="225" x2="505.18" y2="226.4" stroke="#444" stroke-width="1.1"/>
<line x1="402.35" y1="190.4" x2="402.35" y2="195.5" stroke="#767676" stroke-width="1"/>
<line x1="402.35" y1="205.6" x2="402.35" y2="212.5" stroke="#767676" stroke-width="1"/>
<line x1="400.35" y1="190.4" x2="404.35" y2="190.4" stroke="#505050" stroke-width="1.2"/>
<line x1="400.35" y1="212.5" x2="404.35" y2="212.5" stroke="#505050" stroke-width="1.2"/>
<rect x="397.4" y="195.5" width="9.9" height="10.1" fill="#dbeb8f" stroke="#62654a" stroke-width="1"/>
<line x1="397.4" y1="201.2" x2="407.3" y2="201.2" stroke="#000" stroke-width="2.1"/>
<line x1="417.04" y1="166.3" x2="417.04" y2="186.2" stroke="#767676" stroke-width="1"/>
<line x1="417.04" y1="200.4" x2="417.04" y2="215.9" stroke="#767676" stroke-width="1"/>
<line x1="415.04" y1="166.3" x2="419.04" y2="166.3" stroke="#505050" stroke-width="1.2"/>
<line x1="415.04" y1="215.9" x2="419.04" y2="215.9" stroke="#505050" stroke-width="1.2"/>
<rect x="412.09" y="186.2" width="9.9" height="14.2" fill="#dbeb8f" stroke="#62654a" stroke-width="1"/>
<line x1="412.09" y1="195.5" x2="421.99" y2="195.5" stroke="#000" stroke-width="2.1"/>
<circle cx="417.04" cy="159.4" r="1.45" fill="none" stroke="#555555" stroke-width="1"/>
<line x1="431.73" y1="184.6" x2="431.73" y2="189.4" stroke="#767676" stroke-width="1"/>
<line x1="431.73" y1="199.7" x2="431.73" y2="206.7" stroke="#767676" stroke-width="1"/>
<line x1="429.73" y1="184.6" x2="433.73" y2="184.6" stroke="#505050" stroke-width="1.2"/>
<line x1="429.73" y1="206.7" x2="433.73" y2="206.7" stroke="#505050" stroke-width="1.2"/>
<rect x="426.78" y="189.4" width="9.9" height="10.3" fill="#dbeb8f" stroke="#62654a" stroke-width="1"/>
<line x1="426.78" y1="190.5" x2="436.68" y2="190.5" stroke="#000" stroke-width="2.1"/>
<line x1="446.42" y1="159.3" x2="446.42" y2="180.4" stroke="#767676" stroke-width="1"/>
<line x1="446.42" y1="197.6" x2="446.42" y2="213.6" stroke="#767676" stroke-width="1"/>
<line x1="444.42" y1="159.3" x2="448.42" y2="159.3" stroke="#505050" stroke-width="1.2"/>
<line x1="444.42" y1="213.6" x2="448.42" y2="213.6" stroke="#505050" stroke-width="1.2"/>
<rect x="441.47" y="180.4" width="9.9" height="17.2" fill="#dbeb8f" stroke="#62654a" stroke-width="1"/>
<line x1="441.47" y1="187.5" x2="451.37" y2="187.5" stroke="#000" stroke-width="2.1"/>
<circle cx="446.42" cy="155.3" r="1.45" fill="none" stroke="#555555" stroke-width="1"/>
<line x1="461.11" y1="179.1" x2="461.11" y2="183.4" stroke="#767676" stroke-width="1"/>
<line x1="461.11" y1="191" x2="461.11" y2="196.2" stroke="#767676" stroke-width="1"/>
<line x1="459.11" y1="179.1" x2="463.11" y2="179.1" stroke="#505050" stroke-width="1.2"/>
<line x1="459.11" y1="196.2" x2="463.11" y2="196.2" stroke="#505050" stroke-width="1.2"/>
<rect x="456.16" y="183.4" width="9.9" height="7.6" fill="#dbeb8f" stroke="#62654a" stroke-width="1"/>
<line x1="456.16" y1="188.5" x2="466.06" y2="188.5" stroke="#000" stroke-width="2.1"/>
<circle cx="461.11" cy="173.4" r="1.5" fill="#555555"/>
<line x1="475.8" y1="152" x2="475.8" y2="167.8" stroke="#767676" stroke-width="1"/>
<line x1="475.8" y1="186.1" x2="475.8" y2="201.7" stroke="#767676" stroke-width="1"/>
<line x1="473.8" y1="152" x2="477.8" y2="152" stroke="#505050" stroke-width="1.2"/>
<line x1="473.8" y1="201.7" x2="477.8" y2="201.7" stroke="#505050" stroke-width="1.2"/>
<rect x="470.85" y="167.8" width="9.9" height="18.3" fill="#dbeb8f" stroke="#62654a" stroke-width="1"/>
<line x1="470.85" y1="174.2" x2="480.75" y2="174.2" stroke="#000" stroke-width="2.1"/>
<line x1="490.49" y1="142.8" x2="490.49" y2="165.9" stroke="#767676" stroke-width="1"/>
<line x1="490.49" y1="184.4" x2="490.49" y2="207" stroke="#767676" stroke-width="1"/>
<line x1="488.49" y1="142.8" x2="492.49" y2="142.8" stroke="#505050" stroke-width="1.2"/>
<line x1="488.49" y1="207" x2="492.49" y2="207" stroke="#505050" stroke-width="1.2"/>
<rect x="485.54" y="165.9" width="9.9" height="18.5" fill="#dbeb8f" stroke="#62654a" stroke-width="1"/>
<line x1="485.54" y1="174.1" x2="495.44" y2="174.1" stroke="#000" stroke-width="2.1"/>
<line x1="505.18" y1="129.2" x2="505.18" y2="151.3" stroke="#767676" stroke-width="1"/>
<line x1="505.18" y1="170.2" x2="505.18" y2="188.7" stroke="#767676" stroke-width="1"/>
<line x1="503.18" y1="129.2" x2="507.18" y2="129.2" stroke="#505050" stroke-width="1.2"/>
<line x1="503.18" y1="188.7" x2="507.18" y2="188.7" stroke="#505050" stroke-width="1.2"/>
<rect x="500.23" y="151.3" width="9.9" height="18.9" fill="#dbeb8f" stroke="#62654a" stroke-width="1"/>
<line x1="500.23" y1="159" x2="510.13" y2="159" stroke="#000" stroke-width="2.1"/>
<rect x="32.8" y="238" width="133.4" height="104.5" fill="#fff" stroke="#636363" stroke-width="1"/>
<line x1="26" y1="243.2" x2="32" y2="243.2" stroke="#666" stroke-width="1"/>
<line x1="26" y1="266.8" x2="32" y2="266.8" stroke="#666" stroke-width="1"/>
<line x1="26" y1="290.4" x2="32" y2="290.4" stroke="#666" stroke-width="1"/>
<line x1="26" y1="313.9" x2="32" y2="313.9" stroke="#666" stroke-width="1"/>
<line x1="26" y1="337.5" x2="32" y2="337.5" stroke="#666" stroke-width="1"/>
<line x1="47.3" y1="343" x2="47.3" y2="344.4" stroke="#444" stroke-width="1.1"/>
<line x1="62.27" y1="343" x2="62.27" y2="344.4" stroke="#444" stroke-width="1.1"/>
<line x1="77.24" y1="343" x2="77.24" y2="344.4" stroke="#444" stroke-width="1.1"/>
<line x1="92.21" y1="343" x2="92.21" y2="344.4" stroke="#444" stroke-width="1.1"/>
<line x1="107.18" y1="343" x2="107.18" y2="344.4" stroke="#444" stroke-width="1.1"/>
<line x1="122.15" y1="343" x2="122.15" y2="344.4" stroke="#444" stroke-width="1.1"/>
<line x1="137.12" y1="343" x2="137.12" y2="344.4" stroke="#444" stroke-width="1.1"/>
<line x1="152.09" y1="343" x2="152.09" y2="344.4" stroke="#444" stroke-width="1.1"/>
<line x1="47.3" y1="304.3" x2="47.3" y2="310.3" stroke="#767676" stroke-width="1"/>
<line x1="47.3" y1="317.5" x2="47.3" y2="326.9" stroke="#767676" stroke-width="1"/>
<line x1="45.3" y1="304.3" x2="49.3" y2="304.3" stroke="#505050" stroke-width="1.2"/>
<line x1="45.3" y1="326.9" x2="49.3" y2="326.9" stroke="#505050" stroke-width="1.2"/>
<rect x="42.35" y="310.3" width="9.9" height="7.2" fill="#dbeb8f" stroke="#62654a" stroke-width="1"/>
<line x1="42.35" y1="313.4" x2="52.25" y2="313.4" stroke="#000" stroke-width="2.1"/>
<line x1="62.27" y1="272.5" x2="62.27" y2="291.1" stroke="#767676" stroke-width="1"/>
<line x1="62.27" y1="310.5" x2="62.27" y2="324.1" stroke="#767676" stroke-width="1"/>
<line x1="60.27" y1="272.5" x2="64.27" y2="272.5" stroke="#505050" stroke-width="1.2"/>
<line x1="60.27" y1="324.1" x2="64.27" y2="324.1" stroke="#505050" stroke-width="1.2"/>
<rect x="57.32" y="291.1" width="9.9" height="19.4" fill="#dbeb8f" stroke="#62654a" stroke-width="1"/>
<line x1="57.32" y1="304" x2="67.22" y2="304" stroke="#000" stroke-width="2.1"/>
<circle cx="62.27" cy="259.3" r="1.5" fill="#555555"/>
<line x1="77.24" y1="290" x2="77.24" y2="300.1" stroke="#767676" stroke-width="1"/>
<line x1="77.24" y1="307.7" x2="77.24" y2="308" stroke="#767676" stroke-width="1"/>
<line x1="75.24" y1="290" x2="79.24" y2="290" stroke="#505050" stroke-width="1.2"/>
<line x1="75.24" y1="308" x2="79.24" y2="308" stroke="#505050" stroke-width="1.2"/>
<rect x="72.29" y="300.1" width="9.9" height="7.6" fill="#dbeb8f" stroke="#62654a" stroke-width="1"/>
<line x1="72.29" y1="305" x2="82.19" y2="305" stroke="#000" stroke-width="2.1"/>
<circle cx="77.24" cy="319" r="1.5" fill="#555555"/>
<line x1="92.21" y1="251.5" x2="92.21" y2="281.2" stroke="#767676" stroke-width="1"/>
<line x1="92.21" y1="303.8" x2="92.21" y2="320.4" stroke="#767676" stroke-width="1"/>
<line x1="90.21" y1="251.5" x2="94.21" y2="251.5" stroke="#505050" stroke-width="1.2"/>
<line x1="90.21" y1="320.4" x2="94.21" y2="320.4" stroke="#505050" stroke-width="1.2"/>
<rect x="87.26" y="281.2" width="9.9" height="22.6" fill="#dbeb8f" stroke="#62654a" stroke-width="1"/>
<line x1="87.26" y1="291.4" x2="97.16" y2="291.4" stroke="#000" stroke-width="2.1"/>
<line x1="107.18" y1="257.8" x2="107.18" y2="263.1" stroke="#767676" stroke-width="1"/>
<line x1="107.18" y1="281.5" x2="107.18" y2="289.4" stroke="#767676" stroke-width="1"/>
<line x1="105.18" y1="257.8" x2="109.18" y2="257.8" stroke="#505050" stroke-width="1.2"/>
<line x1="105.18" y1="289.4" x2="109.18" y2="289.4" stroke="#505050" stroke-width="1.2"/>
<rect x="102.23" y="263.1" width="9.9" height="18.4" fill="#dbeb8f" stroke="#62654a" stroke-width="1"/>
<line x1="102.23" y1="269.6" x2="112.13" y2="269.6" stroke="#000" stroke-width="2.1"/>
<line x1="122.15" y1="256.3" x2="122.15" y2="264.9" stroke="#767676" stroke-width="1"/>
<line x1="122.15" y1="283.2" x2="122.15" y2="301.4" stroke="#767676" stroke-width="1"/>
<line x1="120.15" y1="256.3" x2="124.15" y2="256.3" stroke="#505050" stroke-width="1.2"/>
<line x1="120.15" y1="301.4" x2="124.15" y2="301.4" stroke="#505050" stroke-width="1.2"/>
<rect x="117.2" y="264.9" width="9.9" height="18.3" fill="#dbeb8f" stroke="#62654a" stroke-width="1"/>
<line x1="117.2" y1="272" x2="127.1" y2="272" stroke="#000" stroke-width="2.1"/>
<circle cx="122.15" cy="319" r="1.5" fill="#555555"/>
<line x1="137.12" y1="251" x2="137.12" y2="267.1" stroke="#767676" stroke-width="1"/>
<line x1="137.12" y1="289.4" x2="137.12" y2="320.5" stroke="#767676" stroke-width="1"/>
<line x1="135.12" y1="251" x2="139.12" y2="251" stroke="#505050" stroke-width="1.2"/>
<line x1="135.12" y1="320.5" x2="139.12" y2="320.5" stroke="#505050" stroke-width="1.2"/>
<rect x="132.17" y="267.1" width="9.9" height="22.3" fill="#dbeb8f" stroke="#62654a" stroke-width="1"/>
<line x1="132.17" y1="278.6" x2="142.07" y2="278.6" stroke="#000" stroke-width="2.1"/>
<circle cx="137.12" cy="327.2" r="1.5" fill="#555555"/>
<line x1="152.09" y1="268.9" x2="152.09" y2="287.8" stroke="#767676" stroke-width="1"/>
<line x1="152.09" y1="303" x2="152.09" y2="317.4" stroke="#767676" stroke-width="1"/>
<line x1="150.09" y1="268.9" x2="154.09" y2="268.9" stroke="#505050" stroke-width="1.2"/>
<line x1="150.09" y1="317.4" x2="154.09" y2="317.4" stroke="#505050" stroke-width="1.2"/>
<rect x="147.14" y="287.8" width="9.9" height="15.2" fill="#dbeb8f" stroke="#62654a" stroke-width="1"/>
<line x1="147.14" y1="294.6" x2="157.04" y2="294.6" stroke="#000" stroke-width="2.1"/>
<rect x="210.5" y="236.5" width="134" height="107" fill="#fff" stroke="#636363" stroke-width="1"/>
<line x1="204" y1="242.3" x2="210" y2="242.3" stroke="#666" stroke-width="1"/>
<line x1="204" y1="266.3" x2="210" y2="266.3" stroke="#666" stroke-width="1"/>
<line x1="204" y1="290.3" x2="210" y2="290.3" stroke="#666" stroke-width="1"/>
<line x1="204" y1="314.2" x2="210" y2="314.2" stroke="#666" stroke-width="1"/>
<line x1="204" y1="338.2" x2="210" y2="338.2" stroke="#666" stroke-width="1"/>
<line x1="224.5" y1="344" x2="224.5" y2="345.4" stroke="#444" stroke-width="1.1"/>
<line x1="239.65" y1="344" x2="239.65" y2="345.4" stroke="#444" stroke-width="1.1"/>
<line x1="254.8" y1="344" x2="254.8" y2="345.4" stroke="#444" stroke-width="1.1"/>
<line x1="269.95" y1="344" x2="269.95" y2="345.4" stroke="#444" stroke-width="1.1"/>
<line x1="285.1" y1="344" x2="285.1" y2="345.4" stroke="#444" stroke-width="1.1"/>
<line x1="300.25" y1="344" x2="300.25" y2="345.4" stroke="#444" stroke-width="1.1"/>
<line x1="315.4" y1="344" x2="315.4" y2="345.4" stroke="#444" stroke-width="1.1"/>
<line x1="330.55" y1="344" x2="330.55" y2="345.4" stroke="#444" stroke-width="1.1"/>
<line x1="224.5" y1="302.9" x2="224.5" y2="308.6" stroke="#767676" stroke-width="1"/>
<line x1="224.5" y1="314.9" x2="224.5" y2="319.4" stroke="#767676" stroke-width="1"/>
<line x1="222.5" y1="302.9" x2="226.5" y2="302.9" stroke="#505050" stroke-width="1.2"/>
<line x1="222.5" y1="319.4" x2="226.5" y2="319.4" stroke="#505050" stroke-width="1.2"/>
<rect x="219.55" y="308.6" width="9.9" height="6.3" fill="#dbeb8f" stroke="#62654a" stroke-width="1"/>
<line x1="219.55" y1="311.6" x2="229.45" y2="311.6" stroke="#000" stroke-width="2.1"/>
<circle cx="224.5" cy="324.2" r="1.45" fill="none" stroke="#555555" stroke-width="1"/>
<line x1="239.65" y1="272.4" x2="239.65" y2="292.5" stroke="#767676" stroke-width="1"/>
<line x1="239.65" y1="311.3" x2="239.65" y2="326.2" stroke="#767676" stroke-width="1"/>
<line x1="237.65" y1="272.4" x2="241.65" y2="272.4" stroke="#505050" stroke-width="1.2"/>
<line x1="237.65" y1="326.2" x2="241.65" y2="326.2" stroke="#505050" stroke-width="1.2"/>
<rect x="234.7" y="292.5" width="9.9" height="18.8" fill="#dbeb8f" stroke="#62654a" stroke-width="1"/>
<line x1="234.7" y1="307.3" x2="244.6" y2="307.3" stroke="#000" stroke-width="2.1"/>
<line x1="254.8" y1="280.6" x2="254.8" y2="294.5" stroke="#767676" stroke-width="1"/>
<line x1="254.8" y1="306.6" x2="254.8" y2="315.3" stroke="#767676" stroke-width="1"/>
<line x1="252.8" y1="280.6" x2="256.8" y2="280.6" stroke="#505050" stroke-width="1.2"/>
<line x1="252.8" y1="315.3" x2="256.8" y2="315.3" stroke="#505050" stroke-width="1.2"/>
<rect x="249.85" y="294.5" width="9.9" height="12.1" fill="#dbeb8f" stroke="#62654a" stroke-width="1"/>
<line x1="249.85" y1="298.7" x2="259.75" y2="298.7" stroke="#000" stroke-width="2.1"/>
<line x1="269.95" y1="263.6" x2="269.95" y2="283.2" stroke="#767676" stroke-width="1"/>
<line x1="269.95" y1="301.5" x2="269.95" y2="328.4" stroke="#767676" stroke-width="1"/>
<line x1="267.95" y1="263.6" x2="271.95" y2="263.6" stroke="#505050" stroke-width="1.2"/>
<line x1="267.95" y1="328.4" x2="271.95" y2="328.4" stroke="#505050" stroke-width="1.2"/>
<rect x="265" y="283.2" width="9.9" height="18.3" fill="#dbeb8f" stroke="#62654a" stroke-width="1"/>
<line x1="265" y1="293.4" x2="274.9" y2="293.4" stroke="#000" stroke-width="2.1"/>
<circle cx="269.95" cy="330.9" r="1.5" fill="#555555"/>
<line x1="285.1" y1="262.4" x2="285.1" y2="268" stroke="#767676" stroke-width="1"/>
<line x1="285.1" y1="284.4" x2="285.1" y2="291.3" stroke="#767676" stroke-width="1"/>
<line x1="283.1" y1="262.4" x2="287.1" y2="262.4" stroke="#505050" stroke-width="1.2"/>
<line x1="283.1" y1="291.3" x2="287.1" y2="291.3" stroke="#505050" stroke-width="1.2"/>
<rect x="280.15" y="268" width="9.9" height="16.4" fill="#dbeb8f" stroke="#62654a" stroke-width="1"/>
<line x1="280.15" y1="278.3" x2="290.05" y2="278.3" stroke="#000" stroke-width="2.1"/>
<line x1="300.25" y1="255.7" x2="300.25" y2="262.4" stroke="#767676" stroke-width="1"/>
<line x1="300.25" y1="287.6" x2="300.25" y2="297.5" stroke="#767676" stroke-width="1"/>
<line x1="298.25" y1="255.7" x2="302.25" y2="255.7" stroke="#505050" stroke-width="1.2"/>
<line x1="298.25" y1="297.5" x2="302.25" y2="297.5" stroke="#505050" stroke-width="1.2"/>
<rect x="295.3" y="262.4" width="9.9" height="25.2" fill="#dbeb8f" stroke="#62654a" stroke-width="1"/>
<line x1="295.3" y1="271.6" x2="305.2" y2="271.6" stroke="#000" stroke-width="2.1"/>
<line x1="315.4" y1="253.3" x2="315.4" y2="268.4" stroke="#767676" stroke-width="1"/>
<line x1="315.4" y1="290.2" x2="315.4" y2="320.3" stroke="#767676" stroke-width="1"/>
<line x1="313.4" y1="253.3" x2="317.4" y2="253.3" stroke="#505050" stroke-width="1.2"/>
<line x1="313.4" y1="320.3" x2="317.4" y2="320.3" stroke="#505050" stroke-width="1.2"/>
<rect x="310.45" y="268.4" width="9.9" height="21.8" fill="#dbeb8f" stroke="#62654a" stroke-width="1"/>
<line x1="310.45" y1="278.3" x2="320.35" y2="278.3" stroke="#000" stroke-width="2.1"/>
<circle cx="315.4" cy="328.2" r="1.45" fill="none" stroke="#555555" stroke-width="1"/>
<circle cx="315.4" cy="331.4" r="1.45" fill="none" stroke="#555555" stroke-width="1"/>
<line x1="330.55" y1="270.8" x2="330.55" y2="284.2" stroke="#767676" stroke-width="1"/>
<line x1="330.55" y1="296.8" x2="330.55" y2="312.2" stroke="#767676" stroke-width="1"/>
<line x1="328.55" y1="270.8" x2="332.55" y2="270.8" stroke="#505050" stroke-width="1.2"/>
<line x1="328.55" y1="312.2" x2="332.55" y2="312.2" stroke="#505050" stroke-width="1.2"/>
<rect x="325.6" y="284.2" width="9.9" height="12.6" fill="#dbeb8f" stroke="#62654a" stroke-width="1"/>
<line x1="325.6" y1="293.1" x2="335.5" y2="293.1" stroke="#000" stroke-width="2.1"/>
<circle cx="330.55" cy="264.8" r="1.45" fill="none" stroke="#555555" stroke-width="1"/>
<circle cx="330.55" cy="333" r="1.45" fill="none" stroke="#555555" stroke-width="1"/>
<rect x="386.5" y="236.5" width="131" height="106" fill="#fff" stroke="#636363" stroke-width="1"/>
<line x1="380" y1="252.4" x2="386" y2="252.4" stroke="#666" stroke-width="1"/>
<line x1="380" y1="273.7" x2="386" y2="273.7" stroke="#666" stroke-width="1"/>
<line x1="380" y1="295" x2="386" y2="295" stroke="#666" stroke-width="1"/>
<line x1="380" y1="316.2" x2="386" y2="316.2" stroke="#666" stroke-width="1"/>
<line x1="380" y1="337.5" x2="386" y2="337.5" stroke="#666" stroke-width="1"/>
<line x1="400.75" y1="343" x2="400.75" y2="344.4" stroke="#444" stroke-width="1.1"/>
<line x1="415.41" y1="343" x2="415.41" y2="344.4" stroke="#444" stroke-width="1.1"/>
<line x1="430.07" y1="343" x2="430.07" y2="344.4" stroke="#444" stroke-width="1.1"/>
<line x1="444.73" y1="343" x2="444.73" y2="344.4" stroke="#444" stroke-width="1.1"/>
<line x1="459.39" y1="343" x2="459.39" y2="344.4" stroke="#444" stroke-width="1.1"/>
<line x1="474.05" y1="343" x2="474.05" y2="344.4" stroke="#444" stroke-width="1.1"/>
<line x1="488.71" y1="343" x2="488.71" y2="344.4" stroke="#444" stroke-width="1.1"/>
<line x1="503.37" y1="343" x2="503.37" y2="344.4" stroke="#444" stroke-width="1.1"/>
<line x1="400.75" y1="306.4" x2="400.75" y2="310.8" stroke="#767676" stroke-width="1"/>
<line x1="400.75" y1="315.3" x2="400.75" y2="318.5" stroke="#767676" stroke-width="1"/>
<line x1="398.75" y1="306.4" x2="402.75" y2="306.4" stroke="#505050" stroke-width="1.2"/>
<line x1="398.75" y1="318.5" x2="402.75" y2="318.5" stroke="#505050" stroke-width="1.2"/>
<rect x="395.8" y="310.8" width="9.9" height="4.5" fill="#dbeb8f" stroke="#62654a" stroke-width="1"/>
<line x1="395.8" y1="312.8" x2="405.7" y2="312.8" stroke="#000" stroke-width="2.1"/>
<circle cx="400.75" cy="326.5" r="1.5" fill="#555555"/>
<line x1="415.41" y1="286.6" x2="415.41" y2="298.3" stroke="#767676" stroke-width="1"/>
<line x1="415.41" y1="309.6" x2="415.41" y2="322.2" stroke="#767676" stroke-width="1"/>
<line x1="413.41" y1="286.6" x2="417.41" y2="286.6" stroke="#505050" stroke-width="1.2"/>
<line x1="413.41" y1="322.2" x2="417.41" y2="322.2" stroke="#505050" stroke-width="1.2"/>
<rect x="410.46" y="298.3" width="9.9" height="11.3" fill="#dbeb8f" stroke="#62654a" stroke-width="1"/>
<line x1="410.46" y1="304.3" x2="420.36" y2="304.3" stroke="#000" stroke-width="2.1"/>
<line x1="430.07" y1="279.5" x2="430.07" y2="289.2" stroke="#767676" stroke-width="1"/>
<line x1="430.07" y1="307" x2="430.07" y2="312.6" stroke="#767676" stroke-width="1"/>
<line x1="428.07" y1="279.5" x2="432.07" y2="279.5" stroke="#505050" stroke-width="1.2"/>
<line x1="428.07" y1="312.6" x2="432.07" y2="312.6" stroke="#505050" stroke-width="1.2"/>
<rect x="425.12" y="289.2" width="9.9" height="17.8" fill="#dbeb8f" stroke="#62654a" stroke-width="1"/>
<line x1="425.12" y1="292.7" x2="435.02" y2="292.7" stroke="#000" stroke-width="2.1"/>
<line x1="444.73" y1="273.6" x2="444.73" y2="290.2" stroke="#767676" stroke-width="1"/>
<line x1="444.73" y1="304.5" x2="444.73" y2="317.9" stroke="#767676" stroke-width="1"/>
<line x1="442.73" y1="273.6" x2="446.73" y2="273.6" stroke="#505050" stroke-width="1.2"/>
<line x1="442.73" y1="317.9" x2="446.73" y2="317.9" stroke="#505050" stroke-width="1.2"/>
<rect x="439.78" y="290.2" width="9.9" height="14.3" fill="#dbeb8f" stroke="#62654a" stroke-width="1"/>
<line x1="439.78" y1="298.6" x2="449.68" y2="298.6" stroke="#000" stroke-width="2.1"/>
<circle cx="444.73" cy="259.3" r="1.5" fill="#555555"/>
<circle cx="444.73" cy="264.9" r="1.5" fill="#555555"/>
<line x1="459.39" y1="281.3" x2="459.39" y2="290.3" stroke="#767676" stroke-width="1"/>
<line x1="459.39" y1="304" x2="459.39" y2="310.8" stroke="#767676" stroke-width="1"/>
<line x1="457.39" y1="281.3" x2="461.39" y2="281.3" stroke="#505050" stroke-width="1.2"/>
<line x1="457.39" y1="310.8" x2="461.39" y2="310.8" stroke="#505050" stroke-width="1.2"/>
<rect x="454.44" y="290.3" width="9.9" height="13.7" fill="#dbeb8f" stroke="#62654a" stroke-width="1"/>
<line x1="454.44" y1="296.6" x2="464.34" y2="296.6" stroke="#000" stroke-width="2.1"/>
<line x1="474.05" y1="266" x2="474.05" y2="279.9" stroke="#767676" stroke-width="1"/>
<line x1="474.05" y1="296.6" x2="474.05" y2="309.5" stroke="#767676" stroke-width="1"/>
<line x1="472.05" y1="266" x2="476.05" y2="266" stroke="#505050" stroke-width="1.2"/>
<line x1="472.05" y1="309.5" x2="476.05" y2="309.5" stroke="#505050" stroke-width="1.2"/>
<rect x="469.1" y="279.9" width="9.9" height="16.7" fill="#dbeb8f" stroke="#62654a" stroke-width="1"/>
<line x1="469.1" y1="291.8" x2="479" y2="291.8" stroke="#000" stroke-width="2.1"/>
<line x1="488.71" y1="267.3" x2="488.71" y2="288" stroke="#767676" stroke-width="1"/>
<line x1="488.71" y1="302.3" x2="488.71" y2="321.5" stroke="#767676" stroke-width="1"/>
<line x1="486.71" y1="267.3" x2="490.71" y2="267.3" stroke="#505050" stroke-width="1.2"/>
<line x1="486.71" y1="321.5" x2="490.71" y2="321.5" stroke="#505050" stroke-width="1.2"/>
<rect x="483.76" y="288" width="9.9" height="14.3" fill="#dbeb8f" stroke="#62654a" stroke-width="1"/>
<line x1="483.76" y1="295.5" x2="493.66" y2="295.5" stroke="#000" stroke-width="2.1"/>
<circle cx="488.71" cy="251" r="1.45" fill="none" stroke="#555555" stroke-width="1"/>
<circle cx="488.71" cy="262.8" r="1.5" fill="#555555"/>
<circle cx="488.71" cy="325.4" r="1.45" fill="none" stroke="#555555" stroke-width="1"/>
<line x1="503.37" y1="285.8" x2="503.37" y2="304.3" stroke="#767676" stroke-width="1"/>
<line x1="503.37" y1="317.5" x2="503.37" y2="335.1" stroke="#767676" stroke-width="1"/>
<line x1="501.37" y1="285.8" x2="505.37" y2="285.8" stroke="#505050" stroke-width="1.2"/>
<line x1="501.37" y1="335.1" x2="505.37" y2="335.1" stroke="#505050" stroke-width="1.2"/>
<rect x="498.42" y="304.3" width="9.9" height="13.2" fill="#dbeb8f" stroke="#62654a" stroke-width="1"/>
<line x1="498.42" y1="312.6" x2="508.32" y2="312.6" stroke="#000" stroke-width="2.1"/>
<circle cx="503.37" cy="275.3" r="1.5" fill="#555555"/>
<circle cx="503.37" cy="277.1" r="1.45" fill="none" stroke="#555555" stroke-width="1"/>
<circle cx="503.37" cy="280.5" r="1.45" fill="none" stroke="#555555" stroke-width="1"/>
</g>
<text x="26.0" y="18.3" class="tk">14</text>
<text x="26.0" y="37.2" class="tk">12</text>
<text x="26.0" y="56.6" class="tk">10</text>
<text x="26.0" y="75.9" class="tk">8</text>
<text x="26.0" y="94.8" class="tk">6</text>
<text x="49.7" y="95.4" class="gl" textLength="42.4" lengthAdjust="spacingAndGlyphs">TNFRSF7</text>
<text x="204.0" y="8.8" class="tk">11</text>
<text x="204.0" y="24.8" class="tk">10</text>
<text x="204.0" y="40.8" class="tk">9</text>
<text x="204.0" y="56.9" class="tk">8</text>
<text x="204.0" y="72.9" class="tk">7</text>
<text x="204.0" y="89" class="tk">6</text>
<text x="204.0" y="105.1" class="tk">5</text>
<text x="223.4" y="95.7" class="gl" textLength="46.6" lengthAdjust="spacingAndGlyphs">KIAA0495</text>
<text x="380.0" y="8.7" class="tk">12</text>
<text x="380.0" y="27.6" class="tk">10</text>
<text x="380.0" y="46.8" class="tk">8</text>
<text x="380.0" y="65.9" class="tk">6</text>
<text x="380.0" y="85" class="tk">4</text>
<text x="380.0" y="104" class="tk">2</text>
<text x="395.7" y="96.1" class="gl" textLength="39.9" lengthAdjust="spacingAndGlyphs">CARD15</text>
<text x="26.0" y="128.1" class="tk">15</text>
<text x="26.0" y="149" class="tk">14</text>
<text x="26.0" y="170.2" class="tk">13</text>
<text x="26.0" y="191.4" class="tk">12</text>
<text x="26.0" y="212.6" class="tk">11</text>
<text x="47.4" y="139.3" class="gl" textLength="26.3" lengthAdjust="spacingAndGlyphs">CCT3</text>
<text x="205.0" y="129" class="tk">14</text>
<text x="205.0" y="153" class="tk">13</text>
<text x="205.0" y="177" class="tk">12</text>
<text x="205.0" y="201.1" class="tk">11</text>
<text x="205.0" y="225.1" class="tk">10</text>
<text x="229.4" y="133.9" class="gl" textLength="32.9" lengthAdjust="spacingAndGlyphs">VDAC1</text>
<text x="381.0" y="125.8" class="tk">14</text>
<text x="381.0" y="149.7" class="tk">13</text>
<text x="381.0" y="173.7" class="tk">12</text>
<text x="381.0" y="197.6" class="tk">11</text>
<text x="381.0" y="221.6" class="tk">10</text>
<text x="402.8" y="132.5" class="gl" textLength="27.2" lengthAdjust="spacingAndGlyphs">DKC1</text>
<text x="25.0" y="245.8" class="tk">16</text>
<text x="25.0" y="269.4" class="tk">14</text>
<text x="25.0" y="293" class="tk">12</text>
<text x="25.0" y="316.5" class="tk">10</text>
<text x="25.0" y="340.1" class="tk">8</text>
<text x="43.6" y="250.3" class="gl" textLength="55.3" lengthAdjust="spacingAndGlyphs">HIST2H2AA</text>
<text transform="translate(50.3,348.3) rotate(-90)" class="xl" text-anchor="end" textLength="17.5" lengthAdjust="spacing">NPC</text>
<text transform="translate(65.27,348.3) rotate(-90)" class="xl" text-anchor="end" textLength="24.9" lengthAdjust="spacing">MGUS</text>
<text transform="translate(80.24,348.3) rotate(-90)" class="xl" text-anchor="end" textLength="61.4" lengthAdjust="spacing">MM from MGUS</text>
<text transform="translate(95.21,348.3) rotate(-90)" class="xl" text-anchor="end" textLength="48.2" lengthAdjust="spacing">MGUS-L MM</text>
<text transform="translate(110.18,348.3) rotate(-90)" class="xl" text-anchor="end" textLength="48.2" lengthAdjust="spacing">MM-L MGUS</text>
<text transform="translate(125.15,348.3) rotate(-90)" class="xl" text-anchor="end" textLength="61.4" lengthAdjust="spacing">MM from MGUS</text>
<text transform="translate(140.12,348.3) rotate(-90)" class="xl" text-anchor="end" textLength="69" lengthAdjust="spacing">Non–MGUS-L MM</text>
<text transform="translate(155.09,348.3) rotate(-90)" class="xl" text-anchor="end" textLength="24.7" lengthAdjust="spacing">MMCL</text>
<text x="203.0" y="244.9" class="tk">16</text>
<text x="203.0" y="268.9" class="tk">14</text>
<text x="203.0" y="292.9" class="tk">12</text>
<text x="203.0" y="316.8" class="tk">10</text>
<text x="203.0" y="340.8" class="tk">8</text>
<text x="222.6" y="250.8" class="gl" textLength="55" lengthAdjust="spacingAndGlyphs">HIST1H2AC</text>
<text transform="translate(227.5,350.4) rotate(-90)" class="xl" text-anchor="end" textLength="17.5" lengthAdjust="spacing">NPC</text>
<text transform="translate(242.65,350.4) rotate(-90)" class="xl" text-anchor="end" textLength="24.9" lengthAdjust="spacing">MGUS</text>
<text transform="translate(257.8,350.4) rotate(-90)" class="xl" text-anchor="end" textLength="61.4" lengthAdjust="spacing">MM from MGUS</text>
<text transform="translate(272.95,350.4) rotate(-90)" class="xl" text-anchor="end" textLength="48.2" lengthAdjust="spacing">MGUS-L MM</text>
<text transform="translate(288.1,350.4) rotate(-90)" class="xl" text-anchor="end" textLength="48.2" lengthAdjust="spacing">MM-L MGUS</text>
<text transform="translate(303.25,350.4) rotate(-90)" class="xl" text-anchor="end" textLength="61.4" lengthAdjust="spacing">MM from MGUS</text>
<text transform="translate(318.4,350.4) rotate(-90)" class="xl" text-anchor="end" textLength="69" lengthAdjust="spacing">Non–MGUS-L MM</text>
<text transform="translate(333.55,350.4) rotate(-90)" class="xl" text-anchor="end" textLength="24.7" lengthAdjust="spacing">MMCL</text>
<text x="379.0" y="255" class="tk">14</text>
<text x="379.0" y="276.3" class="tk">12</text>
<text x="379.0" y="297.6" class="tk">10</text>
<text x="379.0" y="318.8" class="tk">8</text>
<text x="379.0" y="340.1" class="tk">6</text>
<text x="399.1" y="250" class="gl" textLength="27.3" lengthAdjust="spacingAndGlyphs">NBEA</text>
<text transform="translate(403.75,347.1) rotate(-90)" class="xl" text-anchor="end" textLength="17.5" lengthAdjust="spacing">NPC</text>
<text transform="translate(418.41,347.1) rotate(-90)" class="xl" text-anchor="end" textLength="24.9" lengthAdjust="spacing">MGUS</text>
<text transform="translate(433.07,347.1) rotate(-90)" class="xl" text-anchor="end" textLength="61.4" lengthAdjust="spacing">MM from MGUS</text>
<text transform="translate(447.73,347.1) rotate(-90)" class="xl" text-anchor="end" textLength="48.2" lengthAdjust="spacing">MGUS-L MM</text>
<text transform="translate(462.39,347.1) rotate(-90)" class="xl" text-anchor="end" textLength="48.2" lengthAdjust="spacing">MM-L MGUS</text>
<text transform="translate(477.05,347.1) rotate(-90)" class="xl" text-anchor="end" textLength="61.4" lengthAdjust="spacing">MM from MGUS</text>
<text transform="translate(491.71,347.1) rotate(-90)" class="xl" text-anchor="end" textLength="69" lengthAdjust="spacing">Non–MGUS-L MM</text>
<text transform="translate(506.37,347.1) rotate(-90)" class="xl" text-anchor="end" textLength="24.7" lengthAdjust="spacing">MMCL</text>
<text transform="translate(7.8,60.4) rotate(-90)" class="yt" text-anchor="middle" textLength="46.4" lengthAdjust="spacing">Log2 Signal</text>
<text transform="translate(7.8,180) rotate(-90)" class="yt" text-anchor="middle" textLength="46.4" lengthAdjust="spacing">Log2 Signal</text>
<text transform="translate(7.8,290.9) rotate(-90)" class="yt" text-anchor="middle" textLength="46.4" lengthAdjust="spacing">Log2 Signal</text>
</svg></div>
</body></html>
